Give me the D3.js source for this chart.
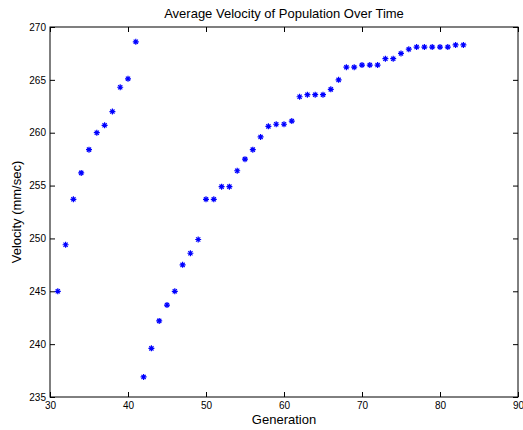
<!DOCTYPE html>
<html>
<head>
<meta charset="utf-8">
<script src="https://cdn.jsdelivr.net/npm/d3@7"></script>
<style>
  body { margin: 0; background: #fff; }
  svg { display: block; font-family: "Liberation Sans", Arial, sans-serif; }
</style>
</head>
<body>
<svg id="chart" width="523" height="430"></svg>
<script>
// Generations plotted along x
const generations = [
  31, 32, 33, 34, 35, 36, 37, 38, 39, 40, 41,
  42, 43, 44, 45, 46, 47, 48, 49, 50, 51, 52, 53, 54, 55, 56, 57, 58, 59, 60, 61,
  62, 63, 64, 65, 66, 67, 68, 69, 70, 71, 72, 73, 74, 75, 76, 77, 78, 79, 80, 81, 82, 83
];

// Average velocity (mm/sec) per generation
const velocities = [
  245.0, 249.4, 253.7, 256.2, 258.4, 260.0, 260.7, 262.0, 264.3, 265.1, 268.6,
  236.9, 239.6, 242.2, 243.7, 245.0, 247.5, 248.6, 249.9, 253.7, 253.7, 254.9, 254.9, 256.4, 257.5, 258.4, 259.6, 260.6, 260.8, 260.8, 261.1,
  263.4, 263.6, 263.6, 263.6, 264.1, 265.0, 266.2, 266.2, 266.4, 266.4, 266.4, 267.0, 267.0, 267.5, 267.9, 268.1, 268.1, 268.1, 268.1, 268.1, 268.3, 268.3
];

const xTicks = [30, 40, 50, 60, 70, 80, 90];
const yTicks = [235, 240, 245, 250, 255, 260, 265, 270];

const titleText = "Average Velocity of Population Over Time";
const xLabel = "Generation";
const yLabel = "Velocity (mm/sec)";

function drawChart(svgIdName)
 {
  const svg = d3.select("#" + svgIdName);
  const margin = { top: 27, right: 5, bottom: 33, left: 50 };
  const width = +svg.attr("width") - margin.left - margin.right;
  const height = +svg.attr("height") - margin.top - margin.bottom;

  const xScale = d3.scaleLinear().domain([30, 90]).range([0, width]);
  const yScale = d3.scaleLinear().domain([235, 270]).range([height, 0]);

  const g = svg.append("g")
    .attr("transform", `translate(${margin.left},${margin.top})`);

  // Axes with inward ticks, MATLAB style box
  const styleAxis = sel => {
    sel.select(".domain").remove();
    sel.selectAll(".tick line").attr("stroke", "#000");
    sel.selectAll("text").attr("font-size", 10).attr("fill", "#000");
  };

  g.append("g")
    .attr("transform", `translate(0,${height})`)
    .call(d3.axisBottom(xScale).tickValues(xTicks).tickSizeInner(-5).tickSizeOuter(0).tickPadding(5))
    .call(styleAxis);

  g.append("g")
    .call(d3.axisTop(xScale).tickValues(xTicks).tickSizeInner(-5).tickSizeOuter(0).tickFormat(""))
    .call(styleAxis);

  g.append("g")
    .call(d3.axisLeft(yScale).tickValues(yTicks).tickSizeInner(-5).tickSizeOuter(0).tickPadding(4))
    .call(styleAxis);

  g.append("g")
    .attr("transform", `translate(${width},0)`)
    .call(d3.axisRight(yScale).tickValues(yTicks).tickSizeInner(-5).tickSizeOuter(0).tickFormat(""))
    .call(styleAxis);

  g.append("rect")
    .attr("width", width)
    .attr("height", height)
    .attr("fill", "none")
    .attr("stroke", "#000")
    .attr("stroke-width", 1);

  // Asterisk markers
  const r = 3;
  const star = `M${-r},0L${r},0M0,${-r}L0,${r}` +
    `M${-r * 0.7},${-r * 0.7}L${r * 0.7},${r * 0.7}M${-r * 0.7},${r * 0.7}L${r * 0.7},${-r * 0.7}`;

  g.selectAll(".pt")
    .data(generations.map((d, i) => ({ x: d, y: velocities[i] })))
    .enter().append("path")
    .attr("class", "pt")
    .attr("transform", d => `translate(${xScale(d.x)},${yScale(d.y)})`)
    .attr("d", star)
    .attr("stroke", "#0000ff")
    .attr("stroke-width", 1.2)
    .attr("fill", "none");

  // Title and labels
  svg.append("text")
    .attr("x", margin.left + width / 2)
    .attr("y", 18)
    .attr("text-anchor", "middle")
    .attr("font-size", 13)
    .text(titleText);

  svg.append("text")
    .attr("x", margin.left + width / 2)
    .attr("y", 424)
    .attr("text-anchor", "middle")
    .attr("font-size", 13)
    .text(xLabel);

  svg.append("text")
    .attr("transform", `translate(21,${margin.top + height / 2}) rotate(-90)`)
    .attr("text-anchor", "middle")
    .attr("font-size", 13)
    .text(yLabel);
 }

drawChart("chart");
</script>
</body>
</html>
